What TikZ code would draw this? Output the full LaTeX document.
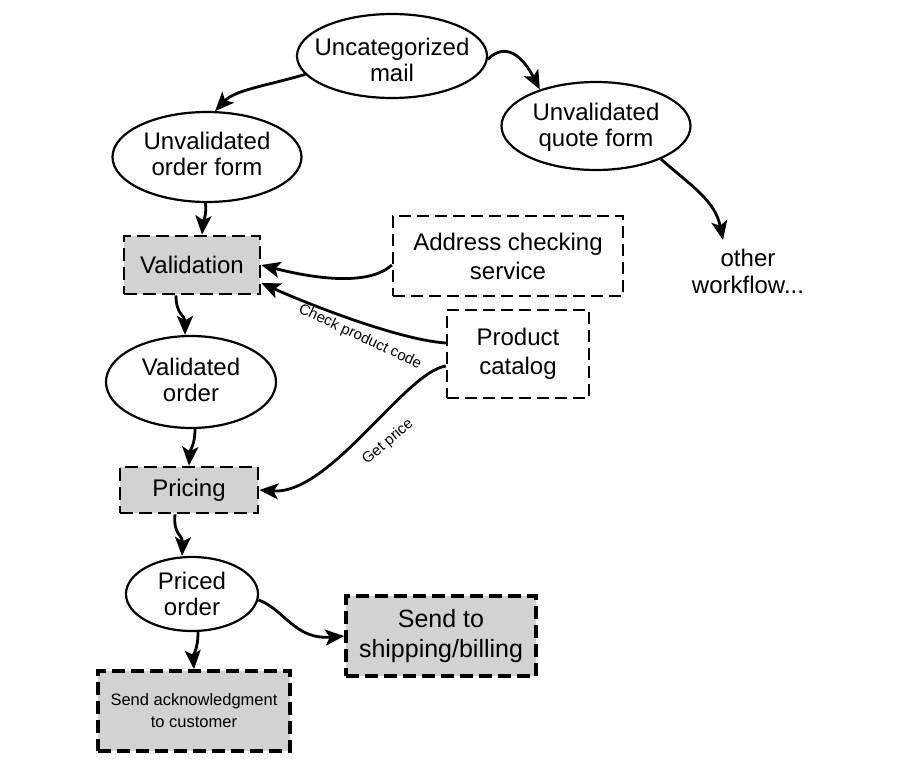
\documentclass[tikz,border=0pt]{standalone}
\usepackage{fontspec}
\setmainfont{Liberation Sans}
\usetikzlibrary{shapes.geometric,arrows.meta,calc}
\definecolor{boxgray}{RGB}{210,210,210}
\newcommand{\twol}[2][-4pt]{\makebox[0pt]{\raisebox{#1}[\height][\depth]{\begin{tabular}{@{}c@{}}#2\end{tabular}}}}
\begin{document}
\begin{tikzpicture}[x=1pt,y=-1pt,
  state/.style={ellipse, draw, line width=2.2pt, fill=white, inner sep=0pt, font=\fontsize{24}{26}\selectfont},
  stepbox/.style={rectangle, draw, dash pattern=on 13pt off 6pt, line width=2.6pt, fill=boxgray, inner sep=0pt, align=center, font=\fontsize{24}{27}\selectfont},
  svcbox/.style={rectangle, draw, dash pattern=on 12pt off 6pt, line width=2.2pt, fill=white, inner sep=0pt, align=center, font=\fontsize{24}{29}\selectfont},
  flow/.style={line width=2.8pt, -{Stealth[length=19pt,width=16pt,inset=4.5pt]}},
  elabel/.style={font=\fontsize{15}{17}\selectfont}
]
\useasboundingbox (0,0) rectangle (900,770);

\node[state, minimum width=190, minimum height=84] (mail) at (392,56) {\twol[-7pt]{Uncategorized\\mail}};
\node[state, minimum width=189, minimum height=88] (quote) at (596,126) {\twol[-2pt]{Unvalidated\\quote form}};
\node[state, minimum width=189, minimum height=90] (oform) at (207,157) {\twol[0pt]{Unvalidated\\order form}};
\node[stepbox, minimum width=136, minimum height=58] (valid) at (192,265) {Validation};
\node[svcbox, minimum width=230, minimum height=80] (addr) at (508,256) {Address checking\\service};
\node[svcbox, minimum width=142, minimum height=88] (cat) at (518,354) {Product\\catalog};
\node[state, minimum width=170, minimum height=92] (vorder) at (191,382) {\twol[-1pt]{Validated\\order}};
\node[stepbox, minimum width=138, minimum height=46] (pricing) at (189,490) {Pricing};
\node[state, minimum width=132, minimum height=74] (porder) at (192,594) {\twol[-3pt]{Priced\\order}};
\node[stepbox, line width=3.5pt, minimum width=190, minimum height=80, font=\fontsize{25}{30}\selectfont] (ship) at (441,636) {Send to\\shipping/billing};
\node[stepbox, line width=3.5pt, minimum width=192, minimum height=80, font=\fontsize{16.5}{22}\selectfont] (ack) at (194,711) {Send acknowledgment\\to customer};
\node[font=\fontsize{24}{27}\selectfont, align=center] (other) at (748,271) {other\\workflow...};
\coordinate (otherin) at (723,240);

\draw[flow] (mail.192) .. controls (265,86) and (235,90) .. (oform.80);
\draw[flow] (mail.358) .. controls (505,42) and (522,55) .. (quote.147);
\draw[flow] (quote.333) .. controls (690,185) and (715,200) .. (otherin);
\draw[flow] (oform.268) .. controls (207,215) and (203,222) .. ([xshift=10pt]valid.north);
\draw[flow] ([yshift=-9pt]addr.west) .. controls (370,285) and (320,280) .. (valid.east);
\draw[flow] ([yshift=11pt]cat.west) .. controls (400,340) and (310,305) .. ([yshift=-18pt]valid.east);
\draw[flow] ([yshift=-12pt]cat.west) .. controls (405,372) and (330,495) .. (pricing.east);
\draw[flow] ([xshift=-16pt]valid.south) .. controls (176,315) and (185,315) .. ([xshift=-6pt]vorder.north);
\draw[flow] ([xshift=4pt]vorder.south) .. controls (195,445) and (190,450) .. (pricing.north);
\draw[flow] ([xshift=-14pt]pricing.south) .. controls (173,535) and (183,535) .. ([xshift=-10pt]porder.north);
\draw[flow] (porder.355) .. controls (285,610) and (295,640) .. (ship.west);
\draw[flow] ([xshift=6pt]porder.south) .. controls (198,650) and (193,655) .. (ack.north);

\node[elabel, rotate=-25] (lcheck) at (360,337) {Check product code};
\node[elabel, rotate=40] (lprice) at (388,442) {Get price};
\end{tikzpicture}
\end{document}
